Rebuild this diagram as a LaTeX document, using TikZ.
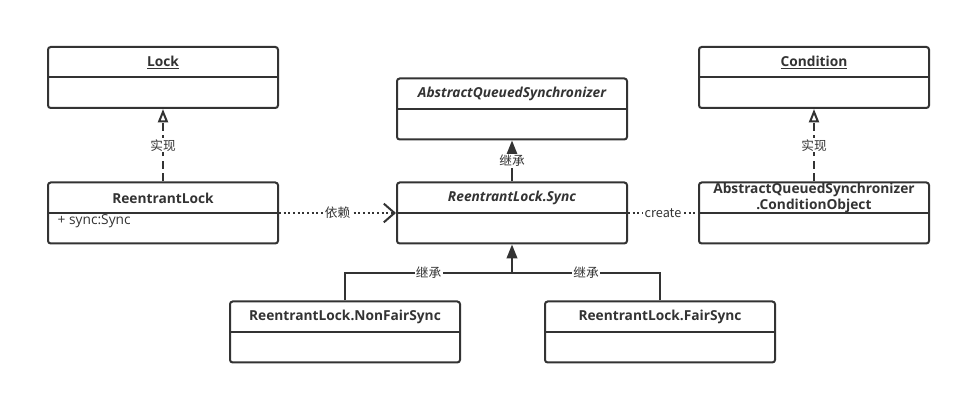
\documentclass[tikz,border=0pt]{standalone}
\usepackage{fontspec}
\setmainfont{Open Sans}
\newfontfamily\cjk{Noto Sans CJK SC}
\usepackage{tikz}
\definecolor{umlgrau}{RGB}{51,51,51}
\usetikzlibrary{arrows.meta}

\begin{document}
\begin{tikzpicture}[x=0.75pt, y=-0.75pt, color=umlgrau,
				font=\fontsize{10.3}{12}\selectfont,
				klasse/.style={draw, line width=1.5pt, rounded corners=2pt, minimum width=172.5pt, minimum height=45.75pt, inner sep=0pt},
				kopf/.style={font=\fontsize{10.3}{12}\selectfont\bfseries, align=center},
				beschr/.style={font=\fontsize{9.5}{10}\selectfont\cjk, fill=white, inner sep=1pt},
				linie/.style={line width=1.5pt},
				erbt/.style={linie, -{Triangle[length=10.5pt, width=8pt]}},
				realisiert/.style={linie, dash pattern=on 6pt off 3.5pt, -{Triangle[open, length=10pt, width=7.5pt]}},
				abhaengig/.style={linie, dash pattern=on 1.5pt off 2pt}]
				%Hintergrund
				\fill[white] (0,0) rectangle (961,395);
				\useasboundingbox (0,0) rectangle (961,395);
				%Klassen zeichnen
				\foreach \n/\x/\y in {lock/163/77.5, rlock/163/213, aqs/512/109, sync/512/213, cond/814/77.5, aqsco/814/213, nonfair/345/332, fair/660/332}
				{
					\node[klasse] (\n) at (\x,\y) {};
					\draw[linie] (\n.west) -- (\n.east);
				}
				%Klassennamen
				\node[kopf] (lock-kopf) at ([yshift=-12.3pt]lock.north) {\underline{Lock}};
				\node[kopf] (rlock-kopf) at ([yshift=-12.3pt]rlock.north) {ReentrantLock};
				\node[kopf] (aqs-kopf) at ([yshift=-12.3pt]aqs.north) {\itshape AbstractQueuedSynchronizer};
				\node[kopf] (sync-kopf) at ([yshift=-12.3pt]sync.north) {\itshape ReentrantLock.Sync};
				\node[kopf] (cond-kopf) at ([yshift=-12.3pt]cond.north) {\underline{Condition}};
				\node[kopf] (aqsco-kopf) at ([yshift=-12.6pt]aqsco.north) {AbstractQueuedSynchronizer\\.ConditionObject};
				\node[kopf] (nonfair-kopf) at ([yshift=-12.3pt]nonfair.north) {ReentrantLock.NonFairSync};
				\node[kopf] (fair-kopf) at ([yshift=-12.3pt]fair.north) {ReentrantLock.FairSync};
				%Attribut
				\node[anchor=west] (rlock-attr) at ([xshift=4.5pt, yshift=-6.5pt]rlock.west) {+ sync:Sync};
				%Beziehungen
				\draw[realisiert] (rlock) -- (lock) node[midway, beschr] (rlock-lock) {实现};
				\draw[realisiert] (aqsco) -- (cond) node[midway, beschr] (aqsco-cond) {实现};
				\draw[erbt] (sync) -- (aqs) node[midway, beschr] (sync-aqs) {继承};
				\draw[abhaengig, -{Straight Barb[length=8pt, width=14pt]}] (rlock) -- (sync) node[midway, beschr] (rlock-sync) {依赖};
				\draw[abhaengig] (sync) -- (aqsco) node[midway, beschr] (sync-aqsco) {create};
				\coordinate (gabel) at (512,273);
				\draw[erbt] (gabel) -- (sync);
				\draw[linie] (nonfair) |- (gabel) node[pos=0.75, beschr] (nonfair-sync) {继承};
				\draw[linie] (fair) |- (gabel) node[pos=0.75, beschr] (fair-sync) {继承};
\end{tikzpicture}
\end{document}
